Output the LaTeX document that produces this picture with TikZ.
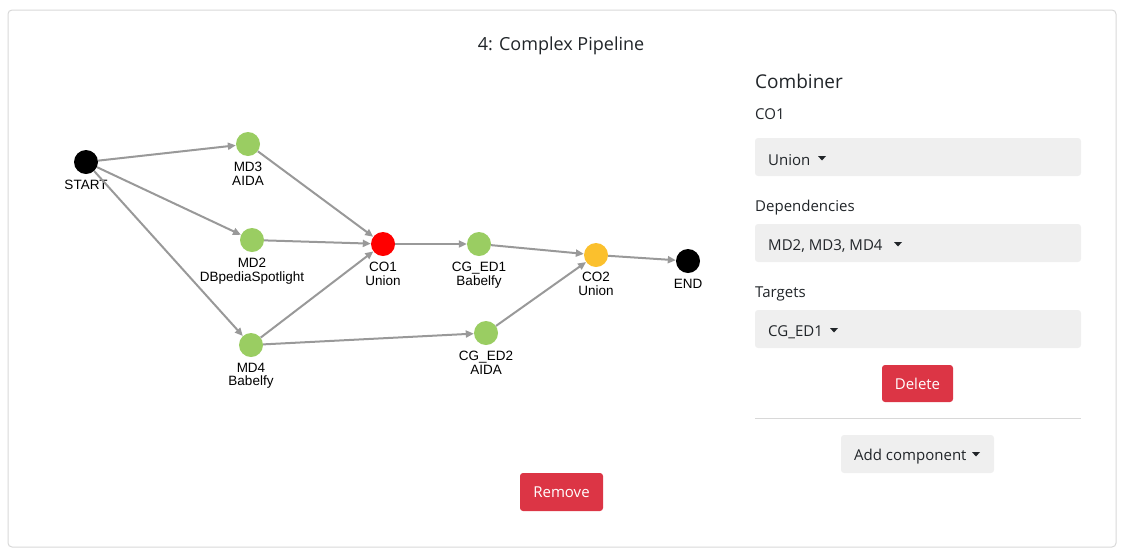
\documentclass[tikz,border=0pt]{standalone}
\usepackage{fontspec}
\setmainfont{Open Sans}
\newfontfamily\arialfont{Liberation Sans}
\usetikzlibrary{arrows.meta}
\definecolor{edgegray}{HTML}{999999}
\definecolor{mdgreen}{HTML}{9ACD62}
\definecolor{coorange}{HTML}{FBC02D}
\definecolor{btnred}{HTML}{DC3545}
\definecolor{boxgray}{HTML}{EFEFEF}
\definecolor{framegray}{HTML}{D8D8D8}
\definecolor{txt}{HTML}{212529}
\tikzset{
  gnode/.style={circle, minimum size=24pt, inner sep=0pt},
  glabel/.style={font=\arialfont\fontsize{13.5}{13.5}\selectfont, align=center, inner sep=0pt, anchor=north},
  edge/.style={draw=edgegray, line width=2pt, -{Triangle[length=8pt,width=7pt]}},
  uitext/.style={font=\fontsize{15}{18}\selectfont, text=txt, inner sep=0pt, anchor=west},
  selbox/.style={fill=boxgray, rounded corners=3pt, draw=none},
  redbtn/.style={fill=btnred, rounded corners=3pt, text=white, font=\fontsize{15}{18}\selectfont, inner sep=0pt},
}
\begin{document}
\begin{tikzpicture}[x=1pt,y=-1pt]
\useasboundingbox (0,0) rectangle (1126,555);
\draw[framegray, line width=1pt, rounded corners=4pt] (8,10) rectangle (1116,547);
\node[font=\fontsize{18}{22}\selectfont, text=txt] (title) at (561,46) {4: Complex Pipeline};

% graph nodes
\node[gnode, fill=black] (start) at (86,162) {};
\node[gnode, fill=mdgreen] (md3) at (248,144) {};
\node[gnode, fill=mdgreen] (md2) at (252,240) {};
\node[gnode, fill=mdgreen] (md4) at (251,345) {};
\node[gnode, fill=red] (co1) at (383,244) {};
\node[gnode, fill=mdgreen] (cged1) at (479,244) {};
\node[gnode, fill=mdgreen] (cged2) at (486,333) {};
\node[gnode, fill=coorange] (co2) at (596,255) {};
\node[gnode, fill=black] (end) at (688,261) {};

\node[glabel] (lstart) at (86,180) {START};
\node[glabel] (lmd3) at (248,162) {MD3\\AIDA};
\node[glabel] (lmd2) at (252,258) {MD2\\DBpediaSpotlight};
\node[glabel] (lmd4) at (251,363) {MD4\\Babelfy};
\node[glabel] (lco1) at (383,262) {CO1\\Union};
\node[glabel] (lcged1) at (479,262) {CG\_ED1\\Babelfy};
\node[glabel] (lcged2) at (486,351) {CG\_ED2\\AIDA};
\node[glabel] (lco2) at (596,272) {CO2\\Union};
\node[glabel] (lend) at (688,279) {END};

% edges
\draw[edge] (start) -- (md3);
\draw[edge] (start) -- (md2);
\draw[edge] (start) -- (md4);
\draw[edge] (md3) -- (co1);
\draw[edge] (md2) -- (co1);
\draw[edge] (md4) -- (co1);
\draw[edge] (md4) -- (cged2);
\draw[edge] (co1) -- (cged1);
\draw[edge] (cged1) -- (co2);
\draw[edge] (cged2) -- (co2);
\draw[edge] (co2) -- (end);

% right panel
\node[uitext, font=\fontsize{19}{22}\selectfont] (comb) at (755,81) {Combiner};
\node[uitext] (lco1p) at (755,114) {CO1};
\path[selbox] (755,138) rectangle (1081,176);
\node[uitext] (union) at (768,160) {Union};
\fill[txt] (818,156) -- (826,156) -- (822,160.5) -- cycle;
\node[uitext] (deps) at (755,208) {Dependencies};
\path[selbox] (755,224) rectangle (1081,262);
\node[uitext] (depsv) at (768,246) {MD2, MD3, MD4};
\fill[txt] (894,242) -- (902,242) -- (898,246.5) -- cycle;
\node[uitext] (targ) at (755,294) {Targets};
\path[selbox] (755,310) rectangle (1081,348);
\node[uitext] (targv) at (768,332) {CG\_ED1};
\fill[txt] (830,328) -- (838,328) -- (834,332.5) -- cycle;
\node[redbtn, minimum width=71pt, minimum height=37pt] (delete) at (917.5,383.5) {Delete};
\draw[framegray, line width=0.8pt] (755,418) -- (1081,418);
\path[selbox] (841,435) rectangle (994,473);
\node[uitext] (addc) at (854,457) {Add component};
\fill[txt] (972,452) -- (980,452) -- (976,456.5) -- cycle;
\node[redbtn, minimum width=83pt, minimum height=38pt] (remove) at (561.5,492) {Remove};
\end{tikzpicture}
\end{document}
